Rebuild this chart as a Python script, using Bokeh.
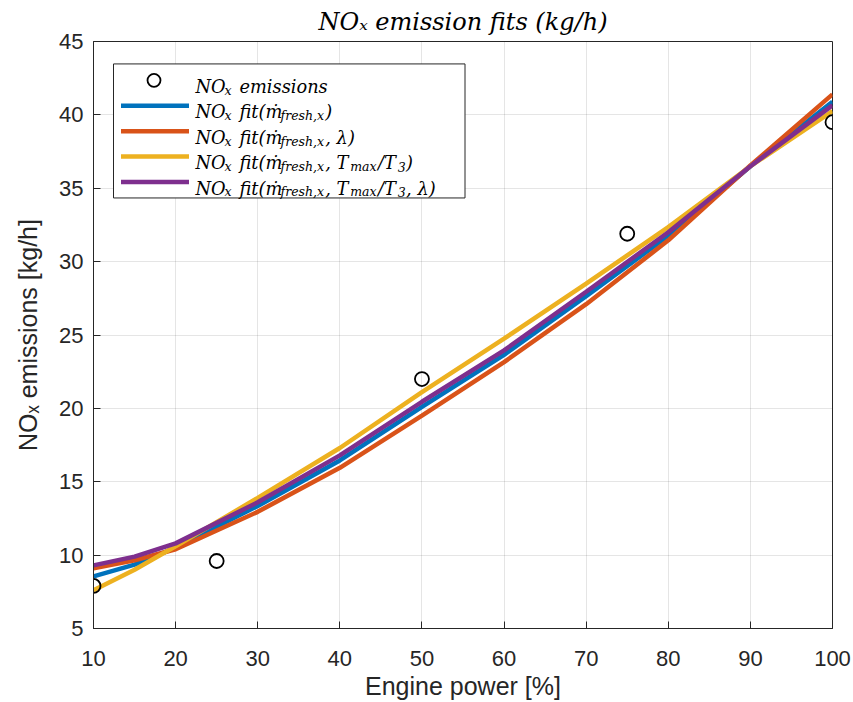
from bokeh.plotting import figure
from bokeh.models import Range1d, Label, FixedTicker, BoxAnnotation
from bokeh.embed import file_html
from bokeh.resources import INLINE

# ---------------- data ----------------
power_pts = [10, 25, 50, 75, 100]
nox_pts = [7.9, 9.6, 22.0, 31.9, 39.5]

power_fit = [10, 15, 20, 30, 40, 50, 60, 70, 80, 90, 100]
fit_m = [8.55, 9.35, 10.5, 13.35, 16.45, 20.1, 23.65, 27.65, 31.75, 36.5, 40.9]
fit_m_lam = [9.1, 9.65, 10.4, 12.95, 15.95, 19.5, 23.15, 27.1, 31.45, 36.55, 41.4]
fit_m_t = [7.6, 9.0, 10.6, 13.9, 17.3, 21.1, 24.75, 28.5, 32.35, 36.5, 40.25]
fit_m_t_lam = [9.3, 9.9, 10.8, 13.6, 16.8, 20.45, 23.95, 27.95, 32.0, 36.5, 40.65]

x_ticks = [10, 20, 30, 40, 50, 60, 70, 80, 90, 100]
y_ticks = [5, 10, 15, 20, 25, 30, 35, 40, 45]

title_text = "NOₓ emission fits (kg/h)"
x_label = "Engine power [%]"
y_label = "NOₓ emissions [kg/h]"

# legend texts as (text, is_subscript) pieces
legend_rows = [
    [("NO", 0), ("x", 1), (" emissions", 0)],
    [("NO", 0), ("x", 1), (" fit(ṁ", 0), ("fresh,x", 1), (")", 0)],
    [("NO", 0), ("x", 1), (" fit(ṁ", 0), ("fresh,x", 1), (", λ)", 0)],
    [("NO", 0), ("x", 1), (" fit(ṁ", 0), ("fresh,x", 1), (", T", 0), ("max", 1), ("/T", 0), ("3", 1), (")", 0)],
    [("NO", 0), ("x", 1), (" fit(ṁ", 0), ("fresh,x", 1), (", T", 0), ("max", 1), ("/T", 0), ("3", 1), (", λ)", 0)],
]

# ---------------- layout / style ----------------
W, H = 853, 702
L, R, T, B = 93, 21, 40, 73
FW, FH = W - L - R, H - T - B
X0, X1, Y0, Y1 = 10, 100, 5, 45

C_BLUE, C_ORANGE, C_YELLOW, C_PURPLE = "#0072BD", "#D95319", "#EDB120", "#7E2F8E"
AX = "#262626"
SERIF = "DejaVu Serif"
LW = 4.5

p = figure(width=W, height=H, x_range=Range1d(X0, X1), y_range=Range1d(Y0, Y1),
           output_backend="svg", toolbar_location=None,
           min_border_left=L, min_border_right=R, min_border_top=T, min_border_bottom=B)
p.background_fill_color = "white"
p.border_fill_color = "white"
p.outline_line_color = AX
p.outline_line_width = 1
p.outline_line_alpha = 1

p.title.text = title_text
p.title.align = "center"
p.title.text_font = SERIF
p.title.text_font_style = "italic"
p.title.text_font_size = "24px"
p.title.text_color = "black"
p.title.standoff = 11

for ax in (p.xaxis[0], p.yaxis[0]):
    ax.axis_line_color = AX
    ax.major_tick_line_color = AX
    ax.major_tick_in = 7
    ax.major_tick_out = 0
    ax.minor_tick_line_color = None
    ax.major_label_text_font = "Liberation Sans"
    ax.major_label_text_font_size = "22px"
    ax.major_label_text_color = AX
    ax.axis_label_text_font = "Liberation Sans"
    ax.axis_label_text_font_size = "25px"
    ax.axis_label_text_font_style = "normal"
    ax.axis_label_text_color = AX

p.xaxis.ticker = FixedTicker(ticks=x_ticks)
p.yaxis.ticker = FixedTicker(ticks=y_ticks)
p.xaxis.axis_label = x_label
p.yaxis.axis_label = y_label
p.xaxis.major_label_standoff = 22
p.xaxis.axis_label_standoff = 3
p.yaxis.major_label_standoff = 10
p.yaxis.axis_label_standoff = 14

p.xgrid.ticker = FixedTicker(ticks=x_ticks)
p.ygrid.ticker = FixedTicker(ticks=y_ticks)
for g in (p.xgrid[0], p.ygrid[0]):
    g.grid_line_color = AX
    g.grid_line_alpha = 0.12
    g.grid_line_width = 1


def px2x(px):
    return X0 + (px - L) * (X1 - X0) / FW


def py2y(py):
    return Y0 + (T + FH - py) * (Y1 - Y0) / FH


# legend frame (drawn under the glyphs, above the grid)
leg_l, leg_r, leg_t, leg_b = 113, 464.5, 62.5, 197
p.add_layout(BoxAnnotation(left=px2x(leg_l), right=px2x(leg_r), top=py2y(leg_t), bottom=py2y(leg_b),
                           fill_color="white", fill_alpha=1, line_color=AX, line_width=1,
                           line_alpha=1, level="underlay"))

# data marks
colors = [C_BLUE, C_ORANGE, C_YELLOW, C_PURPLE]
fits = [fit_m, fit_m_lam, fit_m_t, fit_m_t_lam]
for ys, c in zip(fits, colors):
    p.line(power_fit, ys, line_color=c, line_width=LW)
p.scatter(power_pts, nox_pts, marker="circle", size=14, fill_color=None,
          line_color="black", line_width=1.8)

# legend samples
row_c = [79, 104.5, 130, 155.5, 181]
samp_l, samp_r, samp_mid = 120.5, 188.5, 153.5
p.scatter([px2x(samp_mid)], [py2y(row_c[0])], marker="circle", size=13, fill_color=None,
          line_color="black", line_width=1.8)
for cy, c in zip(row_c[1:], colors):
    p.line([px2x(samp_l), px2x(samp_r)], [py2y(cy), py2y(cy)], line_color=c, line_width=LW)

# legend texts (pieces with subscripts)
CW = {"N": 812, "O": 787, "T": 734, " ": 318, "(": 390, ")": 390, ",": 318, "/": 337,
      "a": 596, "e": 592, "f": 352, "h": 640, "i": 320, "m": 948, "n": 640, "o": 602,
      "r": 478, "s": 513, "t": 402, "x": 645, "ṁ": 820, "λ": 592, "3": 636}
SPACE_W = 360
FS_MAIN, FS_SUB, SUB_DROP = 17.8, 12.5, 4
text_x0 = 195
for cy, row in zip(row_c, legend_rows):
    base_py = cy + 6
    cx = text_x0
    for txt, sub in row:
        fs = FS_SUB if sub else FS_MAIN
        body = txt.lstrip(" ")
        cx += (len(txt) - len(body)) * SPACE_W / 1000 * fs
        p.add_layout(Label(x=px2x(cx), y=py2y(base_py + (SUB_DROP if sub else 0)), text=body,
                           text_font=SERIF, text_font_style="italic",
                           text_font_size=f"{fs}px", text_color="black",
                           text_align="left", text_baseline="alphabetic"))
        cx += sum(CW.get(ch, 600) for ch in body) / 1000 * fs + 0.5

open("out.html", "w").write(file_html(p, INLINE))
